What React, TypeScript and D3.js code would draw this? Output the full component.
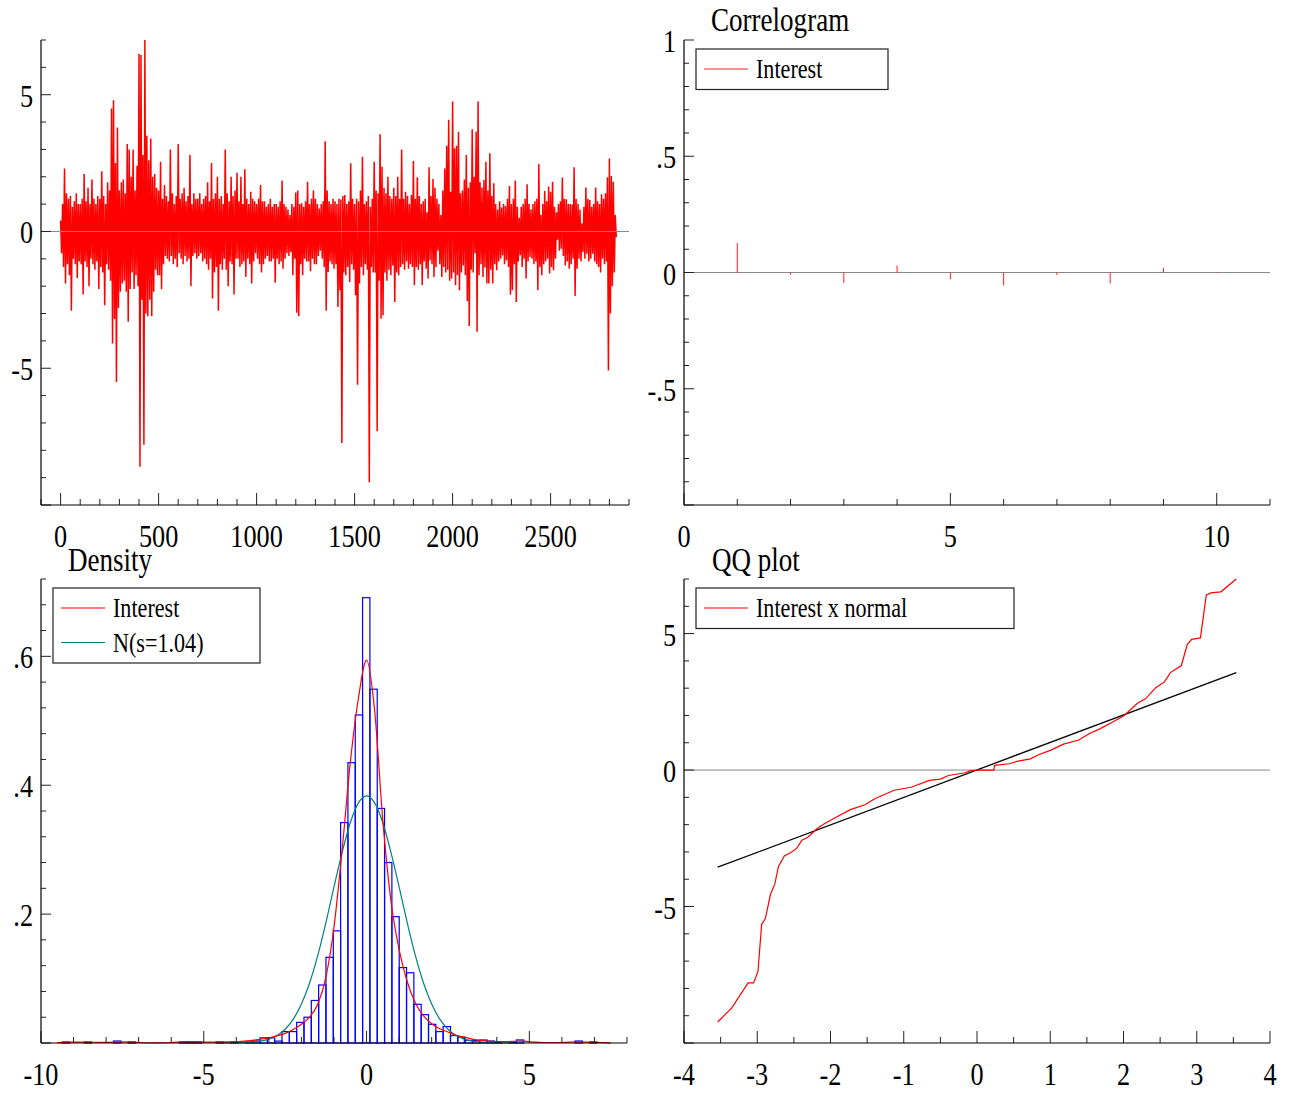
import React from "react";
import * as d3 from "d3";

const W = 1294;
const H = 1095;
const FONT = "'Liberation Serif', 'Times New Roman', serif";
const SQUEEZE = 0.82;

// --- top left: the series itself, upper and lower reach of every block of 10 observations
const seriesStep = 10;
const seriesHi = [
  0.4, 1.0, 2.3, 1.4, 1.2, 1.3, 0.9, 1.1, 1.4, 1.0,
  1.0, 1.2, 2.1, 1.1, 1.6, 1.0, 1.9, 1.2, 1.0, 1.3,
  1.2, 2.2, 1.3, 1.0, 1.8, 1.5, 4.5, 4.8, 2.5, 3.8,
  1.5, 1.8, 1.9, 1.4, 3.2, 3.0, 2.0, 3.0, 1.5, 2.4,
  6.5, 6.45, 2.8, 7.0, 3.5, 2.6, 3.4, 2.0, 2.1, 1.6,
  1.5, 2.55, 1.2, 1.7, 1.3, 1.1, 3.0, 1.4, 1.0, 1.3,
  3.2, 1.2, 1.4, 1.6, 1.1, 1.3, 2.8, 1.0, 1.4, 1.2,
  1.2, 1.4, 1.0, 1.2, 1.3, 1.8, 1.1, 2.5, 1.2, 1.4,
  2.0, 1.2, 1.3, 1.0, 3.0, 1.4, 1.1, 2.0, 1.3, 1.5,
  2.15, 1.1, 2.0, 1.0, 2.27, 1.2, 1.0, 1.45, 1.2, 1.1,
  1.0, 1.2, 1.7, 1.1, 1.1, 0.9, 1.0, 1.2, 0.9, 1.0,
  1.0, 0.9, 1.1, 1.86, 1.0, 0.9, 0.8, 0.6, 1.0, 0.9,
  1.42, 1.5, 1.0, 1.03, 0.9, 1.1, 1.82, 1.0, 1.2, 1.5,
  1.2, 1.0, 0.84, 1.0, 1.1, 3.3, 1.5, 1.1, 1.0, 1.2,
  1.1, 1.0, 1.2, 1.17, 1.3, 1.33, 1.0, 1.1, 2.49, 1.2,
  1.0, 1.2, 1.1, 1.5, 2.73, 1.0, 1.1, 1.3, 0.9, 1.2,
  2.55, 1.5, 1.4, 3.55, 2.37, 1.6, 1.4, 2.0, 1.3, 1.2,
  1.6, 1.3, 2.0, 1.2, 3.0, 1.2, 1.45, 1.3, 1.0, 1.33,
  2.58, 1.2, 1.98, 1.3, 1.0, 1.1, 1.2, 0.7, 2.35, 1.3,
  1.92, 1.6, 1.2, 1.0, 0.6, 1.5, 2.3, 3.13, 4.08, 1.45,
  4.75, 3.04, 3.13, 3.65, 1.4, 1.5, 1.9, 2.8, 1.6, 1.8,
  3.74, 2.0, 3.65, 4.75, 1.8, 1.61, 1.88, 2.55, 1.5, 2.86,
  1.3, 1.76, 1.0, 0.8, 1.1, 0.88, 1.0, 0.93, 1.2, 1.66,
  1.0, 1.2, 1.86, 0.9, 0.5, 0.9, 1.0, 1.2, 1.73, 1.0,
  0.8, 1.0, 1.1, 1.2, 2.47, 0.6, 1.0, 1.48, 1.1, 1.64,
  1.45, 1.82, 0.9, 0.7, 1.0, 1.1, 1.97, 1.2, 1.18, 1.0,
  1.0, 0.99, 2.35, 1.2, 1.0, 0.8, 0.3, 0.9, 1.61, 1.2,
  1.15, 0.9, 1.0, 1.61, 1.1, 1.0, 1.36, 1.2, 1.4, 1.98,
  2.67, 2.03, 1.82, 0.6,
];
const seriesLo = [
  -0.8, -1.3, -1.9, -1.2, -1.6, -2.9, -1.0, -1.2, -1.7, -1.1,
  -1.2, -2.3, -1.1, -1.3, -2.0, -1.0, -1.2, -1.4, -1.1, -2.1,
  -1.3, -1.5, -2.7, -1.2, -1.4, -1.8, -4.1, -3.2, -5.5, -2.8,
  -2.2, -1.9, -1.8, -2.2, -3.3, -2.1, -1.5, -2.1, -1.6, -2.0,
  -8.6, -2.5, -7.8, -3.0, -3.1, -2.5, -3.1, -2.2, -1.4, -1.6,
  -1.6, -2.1, -1.2, -0.9, -1.0, -1.1, -0.9, -1.2, -1.0, -1.3,
  -0.8, -1.0, -1.2, -0.9, -1.1, -1.0, -2.0, -0.9, -0.8, -1.0,
  -0.9, -0.8, -1.1, -1.0, -1.2, -1.4, -1.0, -2.45, -1.5, -1.3,
  -2.9, -1.2, -1.4, -1.0, -1.4, -2.0, -1.1, -1.2, -2.3, -1.0,
  -1.0, -1.3, -1.2, -1.1, -1.66, -1.0, -1.2, -1.9, -1.1, -0.8,
  -1.0, -1.2, -1.5, -1.2, -1.0, -0.9, -1.1, -1.1, -1.0, -1.87,
  -1.0, -1.2, -1.1, -1.36, -1.0, -0.8, -0.9, -0.75, -1.6, -1.0,
  -2.97, -3.1, -1.2, -1.6, -1.0, -1.1, -1.1, -1.45, -1.0, -1.2,
  -1.2, -0.9, -0.7, -1.0, -1.3, -2.9, -1.48, -1.1, -1.2, -1.36,
  -1.2, -2.76, -2.15, -7.73, -1.5, -1.6, -1.3, -1.85, -1.2, -1.4,
  -2.33, -5.6, -1.9, -1.3, -1.6, -1.2, -1.4, -9.17, -1.3, -1.5,
  -1.5, -7.3, -1.8, -3.19, -3.06, -1.5, -1.8, -1.4, -1.6, -1.24,
  -2.58, -1.5, -1.6, -1.3, -1.2, -1.4, -1.1, -1.36, -1.2, -1.3,
  -1.97, -1.3, -1.4, -1.2, -1.97, -1.1, -1.36, -1.72, -1.05, -1.2,
  -1.66, -1.3, -0.7, -1.2, -1.66, -1.3, -1.5, -1.4, -1.8, -1.72,
  -1.5, -1.97, -1.6, -2.15, -1.5, -1.24, -1.6, -2.54, -3.46, -1.4,
  -1.5, -0.8, -3.67, -1.6, -1.2, -1.66, -1.32, -1.9, -1.9, -1.4,
  -1.9, -1.2, -1.42, -1.1, -1.0, -0.87, -1.2, -1.05, -1.3, -2.31,
  -2.15, -1.2, -2.58, -1.1, -0.87, -1.3, -1.0, -1.72, -1.1, -0.93,
  -1.0, -1.2, -1.1, -2.15, -1.3, -1.6, -1.2, -1.1, -1.0, -1.54,
  -1.3, -1.42, -1.0, -0.3, -0.7, -0.63, -0.9, -1.24, -1.1, -1.36,
  -1.2, -1.0, -2.36, -1.36, -1.0, -1.1, -0.75, -1.0, -0.81, -1.1,
  -1.0, -0.81, -1.1, -1.2, -1.3, -1.5, -1.0, -1.2, -1.1, -5.08,
  -3.0, -2.0, -1.5, -0.2,
];
const tlXTickVals = [0, 500, 1000, 1500, 2000, 2500];
const tlXTickText = ["0", "500", "1000", "1500", "2000", "2500"];
const tlYTickVals = [5, 0, -5];
const tlYTickText = ["5", "0", "-5"];

// --- top right: correlogram
const acfLags = [1, 2, 3, 4, 5, 6, 7, 8, 9, 10];
const acfValues = [0.127, -0.01, -0.045, 0.03, -0.029, -0.056, -0.011, -0.047, 0.02, 0.002];
const trXTickVals = [0, 5, 10];
const trXTickText = ["0", "5", "10"];
const trYTickVals = [1, 0.5, 0, -0.5];
const trYTickText = ["1", ".5", "0", "-.5"];

// --- bottom left: histogram + densities
const histWidth = 0.225;
const histLeft = [
  -9.347, -8.672, -7.772, -7.322, -5.747, -5.522, -5.297, -4.622, -4.172, -3.722, -3.497,
  -3.272, -3.047, -2.822, -2.597, -2.372, -2.147, -1.922, -1.697, -1.472, -1.247, -1.022,
  -0.797, -0.572, -0.347, -0.122, 0.103, 0.328, 0.553, 0.778, 1.003, 1.228, 1.453, 1.678,
  1.903, 2.128, 2.353, 2.578, 2.803, 3.028, 3.253, 3.478, 3.703, 3.928, 4.378, 4.603, 6.403, 6.853,
];
const histHeight = [
  0.0016, 0.0016, 0.0031, 0.0016, 0.0016, 0.0016, 0.0016, 0.0016, 0.0016, 0.0016, 0.0031,
  0.008, 0.008, 0.003, 0.0177, 0.0177, 0.032, 0.04, 0.066, 0.09, 0.133, 0.174,
  0.342, 0.435, 0.509, 0.691, 0.549, 0.364, 0.28, 0.196, 0.117, 0.109, 0.06, 0.044,
  0.029, 0.0177, 0.0255, 0.0115, 0.009, 0.004, 0.004, 0.0047, 0.0031, 0.0016, 0.0016, 0.0047, 0.0031, 0.0016,
];
const densX = [
  -9.5, -9, -8.5, -8, -7.5, -7, -6.5, -6, -5.5, -5, -4.5, -4,
  -3.75, -3.5, -3.25, -3, -2.75, -2.5, -2.25, -2, -1.75, -1.5, -1.25, -1, -0.75, -0.5, -0.25,
  0, 0.25, 0.5, 0.75, 1, 1.25, 1.5, 1.75, 2, 2.25, 2.5, 2.75, 3, 3.25, 3.5, 3.75, 4,
  4.5, 4.75, 5, 5.5, 6, 6.5, 7, 7.5,
];
const densY = [
  0.0005, 0.0015, 0.0012, 0.001, 0.0018, 0.0008, 0.0003, 0.0008, 0.0018, 0.0015, 0.0015, 0.002,
  0.003, 0.004, 0.006, 0.008, 0.011, 0.015, 0.021, 0.029, 0.04, 0.06, 0.102, 0.18, 0.3, 0.435, 0.535,
  0.594, 0.515, 0.345, 0.22, 0.145, 0.095, 0.062, 0.042, 0.03, 0.022, 0.017, 0.012, 0.009, 0.006, 0.004, 0.003, 0.002,
  0.0025, 0.003, 0.002, 0.0008, 0.0008, 0.0018, 0.0012, 0.0003,
];
const normX = [
  -4.5, -4, -3.75, -3.5, -3.25, -3, -2.75, -2.5, -2.25, -2, -1.75, -1.5, -1.25, -1, -0.75, -0.5, -0.25,
  0, 0.25, 0.5, 0.75, 1, 1.25, 1.5, 1.75, 2, 2.25, 2.5, 2.75, 3, 3.25, 3.5, 3.75, 4, 4.5,
];
const normY = [
  0.0001, 0.0002, 0.0006, 0.0013, 0.0029, 0.006, 0.0116, 0.0213, 0.037, 0.0604, 0.0931, 0.1355, 0.1865, 0.2421, 0.2958, 0.3417, 0.3727,
  0.3836, 0.3727, 0.3417, 0.2958, 0.2421, 0.1865, 0.1355, 0.0931, 0.0604, 0.037, 0.0213, 0.0116, 0.006, 0.0029, 0.0013, 0.0006, 0.0002, 0.0001,
];
const blXTickVals = [-10, -5, 0, 5];
const blXTickText = ["-10", "-5", "0", "5"];
const blYTickVals = [0.2, 0.4, 0.6];
const blYTickText = [".2", ".4", ".6"];

// --- bottom right: QQ plot
const qqTheo = [
  -3.54, -3.35, -3.125, -3.05, -2.99, -2.94, -2.89, -2.82, -2.76, -2.71, -2.63, -2.54, -2.46, -2.39,
  -2.31, -2.19, -2.09, -1.93, -1.73, -1.53, -1.39, -1.13, -0.9, -0.65, -0.5, -0.39, -0.16, -0.1, 0,
  0.23, 0.24, 0.44, 0.56, 0.73, 0.84, 1.01, 1.18, 1.39, 1.53, 1.67, 1.84, 2.01, 2.19, 2.3, 2.44,
  2.56, 2.64, 2.79, 2.87, 2.93, 3.05, 3.13, 3.19, 3.33, 3.54,
];
const qqSample = [
  -9.23, -8.72, -7.8, -7.8, -7.38, -5.65, -5.45, -4.56, -4.17, -3.53, -3.15, -3.02, -2.86, -2.57,
  -2.46, -2.16, -1.98, -1.74, -1.45, -1.27, -1.04, -0.74, -0.63, -0.38, -0.33, -0.2, -0.1, -0.03, 0,
  0, 0.17, 0.23, 0.33, 0.41, 0.56, 0.73, 0.95, 1.1, 1.33, 1.5, 1.74, 2.0, 2.45, 2.61, 3.02,
  3.23, 3.57, 3.83, 4.6, 4.79, 4.84, 6.41, 6.49, 6.53, 7.0,
];
const qqRefX = [-3.54, 3.54];
const qqRefY = [-3.56, 3.57];
const brXTickVals = [-4, -3, -2, -1, 0, 1, 2, 3, 4];
const brXTickText = ["-4", "-3", "-2", "-1", "0", "1", "2", "3", "4"];
const brYTickVals = [5, 0, -5];
const brYTickText = ["5", "0", "-5"];

type Scale = d3.ScaleLinear<number, number>;

function Txt({ x, y, size, anchor = "start", children }: { x: number; y: number; size: number; anchor?: string; children: React.ReactNode }) {
  return (
    <text transform={`translate(${x},${y}) scale(${SQUEEZE},1)`} fontSize={size} fontFamily={FONT} textAnchor={anchor} fill="#000">
      {children}
    </text>
  );
}

function isMajor(v: number, step: number) {
  const r = v / step;
  return Math.abs(r - Math.round(r)) < 1e-6;
}

function Frame({ x, y, xMinor, xMajor, yMinor, yMajor, xVals, xText, yVals, yText }: {
  x: Scale; y: Scale; xMinor: number; xMajor: number; yMinor: number; yMajor: number;
  xVals: number[]; xText: string[]; yVals: number[]; yText: string[];
}) {
  const [x0, x1] = x.range();
  const [yb, yt] = y.range();
  const [dx0, dx1] = x.domain();
  const [dy0, dy1] = y.domain();
  const xt = d3.range(Math.ceil(dx0 / xMinor - 1e-6) * xMinor, dx1 + 1e-6, xMinor);
  const yt2 = d3.range(Math.ceil(dy0 / yMinor - 1e-6) * yMinor, dy1 + 1e-6, yMinor);
  return (
    <g>
      {xt.map((v, i) => (
        <line key={`xt${i}`} x1={x(v)} x2={x(v)} y1={yb} y2={yb - (isMajor(v, xMajor) ? 12 : 6)} stroke="#222" strokeWidth={1} />
      ))}
      {yt2.map((v, i) => (
        <line key={`yt${i}`} x1={x0} x2={x0 + (isMajor(v, yMajor) ? 10 : 5)} y1={y(v)} y2={y(v)} stroke="#222" strokeWidth={1} />
      ))}
      <line x1={x0} x2={x0} y1={yt} y2={yb} stroke="#000" strokeWidth={1.2} />
      <line x1={x0} x2={x1} y1={yb} y2={yb} stroke="#000" strokeWidth={1.2} />
      {xVals.map((v, i) => (
        <Txt key={`xl${i}`} x={x(v)} y={yb + 42} size={32} anchor="middle">{xText[i]}</Txt>
      ))}
      {yVals.map((v, i) => (
        <Txt key={`yl${i}`} x={x0 - 8} y={y(v) + 12} size={32} anchor="end">{yText[i]}</Txt>
      ))}
    </g>
  );
}

function Legend({ x, y, w, items }: { x: number; y: number; w: number; items: { label: string; color: string }[] }) {
  const h = items.length * 34.5 + 6;
  return (
    <g>
      <rect x={x} y={y} width={w} height={h} fill="#fff" stroke="#222" strokeWidth={1.2} />
      {items.map((it, i) => (
        <g key={it.label}>
          <line x1={x + 8} x2={x + 52} y1={y + 20 + i * 34.5} y2={y + 20 + i * 34.5} stroke={it.color} strokeWidth={1.2} />
          <Txt x={x + 60} y={y + 29 + i * 34.5} size={27}>{it.label}</Txt>
        </g>
      ))}
    </g>
  );
}

export default function App() {
  // top left
  const tlX = d3.scaleLinear().domain([-100, 2900]).range([41, 629]);
  const tlY = d3.scaleLinear().domain([-10, 7]).range([505, 40]);
  const seriesPts: [number, number][] = [];
  seriesHi.forEach((h, k) => {
    seriesPts.push([k * seriesStep, h]);
    seriesPts.push([k * seriesStep + seriesStep / 2, seriesLo[k]]);
  });
  const tlLine = d3.line<[number, number]>().x((d) => tlX(d[0])).y((d) => tlY(d[1]));

  // top right
  const trX = d3.scaleLinear().domain([0, 11]).range([684, 1270]);
  const trY = d3.scaleLinear().domain([-1, 1]).range([505, 40]);

  // bottom left
  const blX = d3.scaleLinear().domain([-10, 8]).range([41, 627]);
  const blY = d3.scaleLinear().domain([0, 0.72]).range([1043, 579]);
  const densLine = d3.line<number>().x((_, i) => blX(densX[i])).y((d) => blY(d)).curve(d3.curveMonotoneX);
  const normLine = d3.line<number>().x((_, i) => blX(normX[i])).y((d) => blY(d)).curve(d3.curveMonotoneX);

  // bottom right
  const brX = d3.scaleLinear().domain([-4, 4]).range([684, 1270]);
  const brY = d3.scaleLinear().domain([-10, 7]).range([1043, 579]);
  const qqLine = d3.line<number>().x((_, i) => brX(qqTheo[i])).y((d) => brY(d));
  const refLine = d3.line<number>().x((_, i) => brX(qqRefX[i])).y((d) => brY(d));

  return (
    <svg width={W} height={H} style={{ position: "absolute", left: 0, top: 0, background: "#fff" }}>
      <rect width={W} height={H} fill="#fff" />

      {/* Top left: series */}
      <path d={tlLine(seriesPts) || ""} fill="none" stroke="#ff0000" strokeWidth={1.5} strokeLinejoin="bevel" />
      <line x1={tlX(-100)} x2={tlX(2900)} y1={tlY(0)} y2={tlY(0)} stroke="#888" strokeWidth={1} />
      <Frame x={tlX} y={tlY} xMinor={100} xMajor={500} yMinor={1} yMajor={5}
        xVals={tlXTickVals} xText={tlXTickText} yVals={tlYTickVals} yText={tlYTickText} />

      {/* Top right: correlogram */}
      <line x1={trX(0)} x2={trX(11)} y1={trY(0)} y2={trY(0)} stroke="#888" strokeWidth={1} />
      {acfLags.map((l, i) => (
        <line key={l} x1={trX(l)} x2={trX(l)} y1={trY(0)} y2={trY(acfValues[i])} stroke="#ff2020" strokeWidth={1} />
      ))}
      <Frame x={trX} y={trY} xMinor={1} xMajor={5} yMinor={0.1} yMajor={0.5}
        xVals={trXTickVals} xText={trXTickText} yVals={trYTickVals} yText={trYTickText} />
      <Txt x={711} y={31} size={33}>Correlogram</Txt>
      <Legend x={696} y={49} w={192} items={[{ label: "Interest", color: "#ff2020" }]} />

      {/* Bottom left: density */}
      {histLeft.map((l, i) => (
        <rect key={i} x={blX(l)} y={blY(histHeight[i])} width={blX(l + histWidth) - blX(l)}
          height={blY(0) - blY(histHeight[i])} fill="none" stroke="#0000ff" strokeWidth={1.2} />
      ))}
      <path d={normLine(normY) || ""} fill="none" stroke="#008080" strokeWidth={1.2} />
      <path d={densLine(densY) || ""} fill="none" stroke="#ff0000" strokeWidth={1.2} />
      <Frame x={blX} y={blY} xMinor={1} xMajor={5} yMinor={0.04} yMajor={0.2}
        xVals={blXTickVals} xText={blXTickText} yVals={blYTickVals} yText={blYTickText} />
      <Txt x={68} y={571} size={33}>Density</Txt>
      <Legend x={53} y={588} w={207} items={[{ label: "Interest", color: "#ff0000" }, { label: "N(s=1.04)", color: "#008080" }]} />

      {/* Bottom right: QQ plot */}
      <line x1={brX(-4)} x2={brX(4)} y1={brY(0)} y2={brY(0)} stroke="#888" strokeWidth={1} />
      <path d={refLine(qqRefY) || ""} fill="none" stroke="#000" strokeWidth={1.3} />
      <path d={qqLine(qqSample) || ""} fill="none" stroke="#ff0000" strokeWidth={1.2} />
      <Frame x={brX} y={brY} xMinor={0.5} xMajor={1} yMinor={1} yMajor={5}
        xVals={brXTickVals} xText={brXTickText} yVals={brYTickVals} yText={brYTickText} />
      <Txt x={712} y={571} size={33}>QQ plot</Txt>
      <Legend x={696} y={588} w={318} items={[{ label: "Interest x normal", color: "#ff0000" }]} />
    </svg>
  );
}
